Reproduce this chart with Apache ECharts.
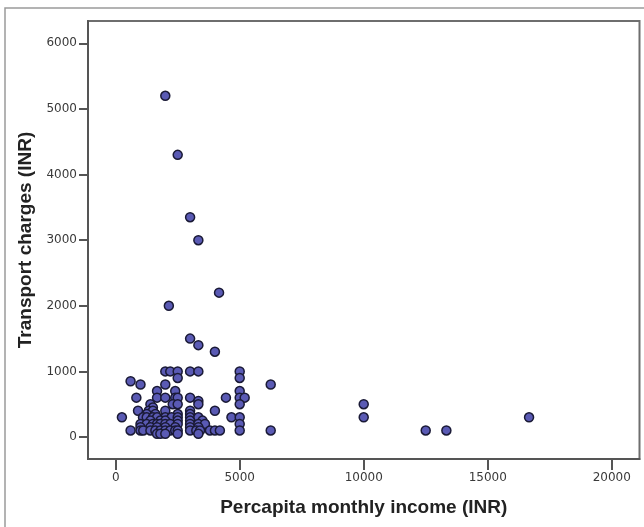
<!DOCTYPE html>
<html>
<head>
<meta charset="utf-8">
<script src="https://cdn.jsdelivr.net/npm/echarts@6/dist/echarts.min.js"></script>
<style>
html,body{margin:0;padding:0;background:#fff;}
#chart{width:644px;height:527px;}
</style>
</head>
<body>
<div id="chart"></div>
<script>
// Percapita monthly income (INR) for each respondent
const income = [
  2000, 2500, 3000, 3333, 4167, 2143, 3000, 3333, 4000,
  2000, 2200, 2500, 3000, 3333, 5000,
  2500, 5000,
  600,
  1000, 2000, 6250,
  1667, 2400, 5000,
  833, 1667, 2000, 2400, 2500, 3000, 4444, 5000, 5200,
  3333,
  1400, 2300, 2500, 3333, 5000, 10000,
  1500,
  900, 1333, 1500, 2000, 3000, 4000,
  1250, 1600, 2500, 3000,
  250, 1100, 1250, 1500, 1667, 2000, 2250, 2500, 3000, 3333, 4667, 5000, 10000, 16667,
  1400, 1800, 2000, 2500, 3000, 3500,
  1000, 1250, 1500, 1667, 1800, 2000, 2200, 2500, 3000, 3333, 3600, 5000,
  1000, 1400, 1667, 2000, 2400, 3000, 3333,
  600, 1000, 1111, 1400, 1600, 1800, 2000, 2200, 2400, 2500, 3000, 3250, 3400, 3800, 4000, 4200, 5000, 6250, 12500, 13333,
  1667, 1800, 2000, 2500, 3333
];
// Transport charges (INR) for the same respondents
const transport = [
  5200, 4300, 3350, 3000, 2200, 2000, 1500, 1400, 1300,
  1000, 1000, 1000, 1000, 1000, 1000,
  900, 900,
  850,
  800, 800, 800,
  700, 700, 700,
  600, 600, 600, 600, 600, 600, 600, 600, 600,
  550,
  500, 500, 500, 500, 500, 500,
  450,
  400, 400, 400, 400, 400, 400,
  350, 350, 350, 350,
  300, 300, 300, 300, 300, 300, 300, 300, 300, 300, 300, 300, 300, 300,
  250, 250, 250, 250, 250, 250,
  200, 200, 200, 200, 200, 200, 200, 200, 200, 200, 200, 200,
  150, 150, 150, 150, 150, 150, 150,
  100, 100, 100, 100, 100, 100, 100, 100, 100, 100, 100, 100, 100, 100, 100, 100, 100, 100, 100, 100,
  50, 50, 50, 50, 50
];
const xTicks = [0, 5000, 10000, 15000, 20000];
const yTicks = [0, 1000, 2000, 3000, 4000, 5000, 6000];

const points = income.map((v, i) => [v, transport[i]]);

const chart = echarts.init(document.getElementById('chart'), null, {renderer: 'canvas'});
chart.setOption({
  animation: false,
  backgroundColor: '#ffffff',
  graphic: [{
    type: 'rect',
    shape: {x: 5, y: 8, width: 700, height: 600},
    style: {fill: 'none', stroke: '#9a9a9a', lineWidth: 1.5},
    silent: true, z: -10
  }],
  grid: {
    left: 88, top: 21, right: 4.5, bottom: 68,
    show: true, borderColor: '#6e6e6e', borderWidth: 2, backgroundColor: 'transparent'
  },
  xAxis: {
    type: 'value',
    min: -1117, max: 21120,
    name: 'Percapita monthly income (INR)',
    nameLocation: 'middle', nameGap: 39,
    nameTextStyle: {fontFamily: 'Liberation Sans, Arial, sans-serif', fontWeight: 'bold', fontSize: 19, color: '#222'},
    axisLine: {show: true, onZero: false, lineStyle: {color: '#555', width: 2}},
    axisTick: {show: true, length: 11, customValues: xTicks, lineStyle: {color: '#555', width: 2}},
    axisLabel: {margin: 13, customValues: xTicks, formatter: v => String(v), fontFamily: 'DejaVu Sans, sans-serif', fontSize: 12, color: '#3a3a3a'},
    splitLine: {show: false}
  },
  yAxis: {
    type: 'value',
    min: -335, max: 6340,
    name: 'Transport charges (INR)',
    nameLocation: 'middle', nameGap: 50,
    nameTextStyle: {fontFamily: 'Liberation Sans, Arial, sans-serif', fontWeight: 'bold', fontSize: 19, color: '#222'},
    axisLine: {show: true, onZero: false, lineStyle: {color: '#555', width: 2}},
    axisTick: {show: true, length: 9, customValues: yTicks, lineStyle: {color: '#555', width: 2}},
    axisLabel: {margin: 11, customValues: yTicks, formatter: v => String(v), fontFamily: 'DejaVu Sans, sans-serif', fontSize: 12, color: '#3a3a3a'},
    splitLine: {show: false}
  },
  series: [{
    type: 'scatter',
    data: points,
    symbol: 'circle',
    symbolSize: 9,
    itemStyle: {color: '#5a5ab4', borderColor: '#1a1a36', borderWidth: 1.5, opacity: 1}
  }]
});
</script>
</body>
</html>
